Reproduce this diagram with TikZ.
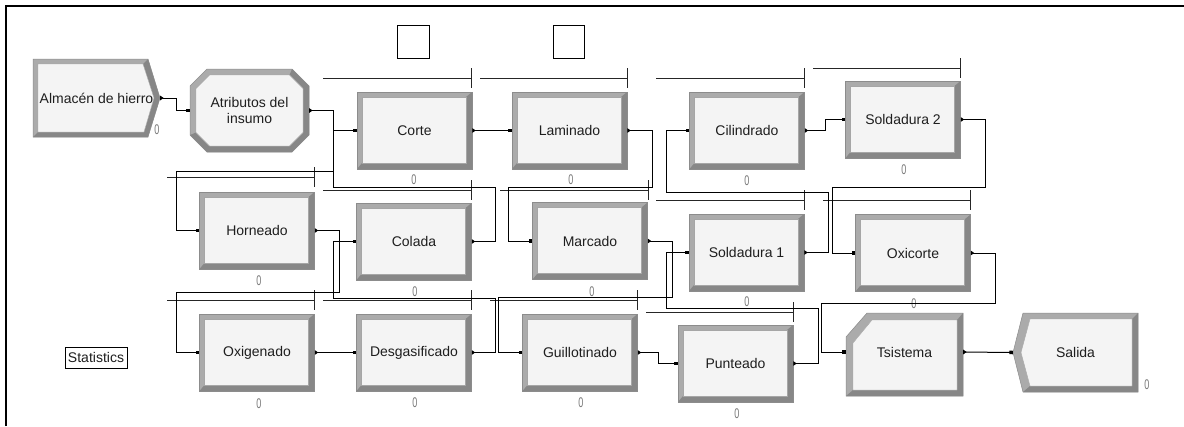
\documentclass[tikz,border=0pt]{standalone}
\usepackage{fontspec}
\setmainfont{Liberation Sans}
\usetikzlibrary{arrows.meta}
\definecolor{bevl}{HTML}{ABABAB}
\definecolor{bevd}{HTML}{878787}
\definecolor{face}{HTML}{F4F4F4}
\definecolor{txt}{HTML}{1E1E1E}
\definecolor{zerocol}{HTML}{7A7A7A}
\newcommand\blkfont{\fontsize{14}{16}\selectfont}
\newcommand\zfont{\fontsize{14}{14}\selectfont}
\newcommand\qline[3]{\draw[qstyle] (#1,#3) -- (#2,#3) (#2,#3-10) -- (#2,#3+10);}
\begin{document}
\begin{tikzpicture}[x=1pt,y=-1pt,
  blk/.style={rectangle, inner sep=0pt, minimum width=115pt, minimum height=77pt,
    draw=black!45, line width=0.5pt, fill=bevl, font=\blkfont, text=txt, align=center,
    path picture={
      \fill[bevd] (path picture bounding box.north east) -- (path picture bounding box.south east)
        -- (path picture bounding box.south west) -- ([xshift=5pt,yshift=6pt]path picture bounding box.south west)
        -- ([xshift=-6pt,yshift=6pt]path picture bounding box.south east)
        -- ([xshift=-6pt,yshift=-5pt]path picture bounding box.north east) -- cycle;
      \filldraw[fill=face, draw=black!35, line width=0.4pt]
        ([xshift=5pt,yshift=-5pt]path picture bounding box.north west)
        rectangle ([xshift=-6pt,yshift=6pt]path picture bounding box.south east);
    }},
  ghost/.style={rectangle, inner sep=0pt, font=\blkfont, text=txt, align=center},
  zero/.style={font=\zfont, text=zerocol, inner sep=0pt, xscale=0.65},
  conn/.style={line width=1pt, draw=black,
    {Triangle[reversed,length=3.5pt,width=4.5pt]}-{Square[length=3.5pt,width=3.5pt]}},
  qstyle/.style={line width=0.8pt, draw=black!85},
  shapeline/.style={draw=black!45, line width=0.5pt}
]
\useasboundingbox (0,0) rectangle (1184,426);
\fill[white] (0,0) rectangle (1184,426);
% frame
\draw[line width=2pt] (6,426) -- (6,6) -- (1184,6);

% ---- special shapes ----
% Almacen de hierro
\fill[bevl] (33,59) -- (148,59) -- (160,98) -- (148,137) -- (33,137) -- cycle;
\fill[bevd] (148,59) -- (160,98) -- (148,137) -- (33,137) -- (38,132) -- (144,132) -- (154,98) -- (143,64) -- cycle;
\filldraw[fill=face, draw=black!35, line width=0.4pt] (38,64) -- (143,64) -- (154,98) -- (144,132) -- (38,132) -- cycle;
\draw[shapeline] (33,59) -- (148,59) -- (160,98) -- (148,137) -- (33,137) -- cycle;
% Atributos del insumo
\fill[bevl] (207,69) -- (292,69) -- (309,86) -- (309,135) -- (292,152) -- (207,152) -- (190,135) -- (190,86) -- cycle;
\fill[bevd] (292,69) -- (309,86) -- (309,135) -- (292,152) -- (207,152) -- (190,135)
  -- (196,132.5) -- (209.5,146) -- (289.5,146) -- (303,132.5) -- (303,88.5) -- (289.5,75) -- cycle;
\filldraw[fill=face, draw=black!35, line width=0.4pt] (209.5,75) -- (289.5,75) -- (303,88.5) -- (303,132.5)
  -- (289.5,146) -- (209.5,146) -- (196,132.5) -- (196,88.5) -- cycle;
\draw[shapeline] (207,69) -- (292,69) -- (309,86) -- (309,135) -- (292,152) -- (207,152) -- (190,135) -- (190,86) -- cycle;
% Tsistema
\fill[bevl] (867,313) -- (963,313) -- (963,396) -- (846,396) -- (846,337) -- cycle;
\fill[bevd] (963,313) -- (963,396) -- (846,396) -- (853,390) -- (957,390) -- (957,320) -- cycle;
\filldraw[fill=face, draw=black!35, line width=0.4pt] (872,320) -- (957,320) -- (957,390) -- (853,390) -- (853,343) -- cycle;
\draw[shapeline] (867,313) -- (963,313) -- (963,396) -- (846,396) -- (846,337) -- cycle;
% Salida
\fill[bevl] (1023,313) -- (1138,313) -- (1138,392) -- (1023,392) -- (1013,352.5) -- cycle;
\fill[bevd] (1138,313) -- (1138,392) -- (1023,392) -- (1030,386) -- (1132,386) -- (1132,319) -- cycle;
\filldraw[fill=face, draw=black!35, line width=0.4pt] (1030,319) -- (1132,319) -- (1132,386) -- (1030,386) -- (1021,352.5) -- cycle;
\draw[shapeline] (1023,313) -- (1138,313) -- (1138,392) -- (1023,392) -- (1013,352.5) -- cycle;

% ---- nodes ----
\node[ghost, minimum width=127pt, minimum height=78pt] (almacen) at (96.5,98) {Almacén de hierro};
\node[ghost, minimum width=119pt, minimum height=83pt] (atrib) at (249.5,110.5) {Atributos del\\insumo};
\node[ghost, minimum width=117pt, minimum height=78pt] (tsis) at (904.5,352) {Tsistema};
\node[ghost, minimum width=125pt, minimum height=79pt] (salida) at (1075.5,352.5) {Salida};

\node[blk] (corte) at (414.5,130.5) {Corte};
\node[blk] (laminado) at (569.5,130.5) {Laminado};
\node[blk] (cilin) at (747,130.5) {Cilindrado};
\node[blk] (sold2) at (903,119.5) {Soldadura 2};
\node[blk] (horneado) at (257,230.5) {Horneado};
\node[blk] (colada) at (414,241.5) {Colada};
\node[blk] (marcado) at (590,241) {Marcado};
\node[blk] (sold1) at (746.5,252.5) {Soldadura 1};
\node[blk] (oxi) at (913,253) {Oxicorte};
\node[blk] (oxig) at (257,352.5) {Oxigenado};
\node[blk] (desgas) at (414,352.5) {Desgasificado};
\node[blk] (guillo) at (580,352.5) {Guillotinado};
\node[blk] (punteado) at (735.5,363.5) {Punteado};

\node[draw, line width=0.6pt, minimum width=62pt, minimum height=21pt, inner sep=0pt, font=\blkfont, text=txt] (stats) at (96,357.5) {Statistics};
\node[draw, line width=0.8pt, minimum width=32pt, minimum height=33pt, inner sep=0pt] (sqa) at (413,41.5) {};
\node[draw, line width=0.8pt, minimum width=31pt, minimum height=33pt, inner sep=0pt] (sqb) at (568.5,41.5) {};

% ---- zero counters ----
\node[zero] (z1) at (157,130) {0};
\node[zero] (z2) at (414,180) {0};
\node[zero] (z3) at (571,180) {0};
\node[zero] (z4) at (747,181) {0};
\node[zero] (z5) at (904,170) {0};
\node[zero] (z6) at (259,281) {0};
\node[zero] (z7) at (415,292) {0};
\node[zero] (z8) at (592,292) {0};
\node[zero] (z9) at (747,302) {0};
\node[zero] (z10) at (914,304) {0};
\node[zero] (z11) at (259,404) {0};
\node[zero] (z12) at (415,403) {0};
\node[zero] (z13) at (581,403) {0};
\node[zero] (z14) at (737,414) {0};
\node[zero] (z15) at (1147,385) {0};

% ---- queues ----
\qline{323}{471}{78}
\qline{480}{627}{78}
\qline{656}{804}{78}
\qline{813}{960}{68}
\qline{167}{314}{177}
\qline{323}{471}{190}
\qline{500}{648}{190}
\qline{656}{804}{200}
\qline{823}{970}{200}
\qline{167}{314}{300}
\qline{323}{471}{300}
\qline{490}{637}{300}
\qline{646}{793}{312}

% ---- connectors ----
\draw[conn] (almacen.east) -- (176,98) |- (atrib.west);
\draw[conn] (atrib.east) -- (333,110.5) -- (333,171) -- (176,171) |- (horneado.west);
\draw[conn] (horneado.east) -- (339,230.5) -- (339,292) -- (176,292) |- (oxig.west);
\draw[conn] (oxig.east) -- (desgas.west);
\draw[conn] (desgas.east) -- (495,352.5) -- (495,298) -- (333,298) |- (colada.west);
\draw[conn] (colada.east) -- (495,241.5) -- (495,187) -- (333,187) |- (corte.west);
\draw[conn] (corte.east) -- (laminado.west);
\draw[conn] (laminado.east) -- (652,130.5) -- (652,187) -- (508,187) |- (marcado.west);
\draw[conn] (marcado.east) -- (672,241) -- (672,297) -- (498,297) |- (guillo.west);
\draw[conn] (guillo.east) -- (658,352.5) |- (punteado.west);
\draw[conn] (punteado.east) -- (818,363.5) -- (818,308) -- (666,308) |- (sold1.west);
\draw[conn] (sold1.east) -- (828,252.5) -- (828,192) -- (666,192) |- (cilin.west);
\draw[conn] (cilin.east) -- (825,130.5) |- (sold2.west);
\draw[conn] (sold2.east) -- (985,119.5) -- (985,187) -- (832,187) |- (oxi.west);
\draw[conn] (oxi.east) -- (995,253) -- (995,303) -- (821,303) |- (tsis.west);
\draw[conn] (tsis.east) -- (salida.west);
\end{tikzpicture}
\end{document}
